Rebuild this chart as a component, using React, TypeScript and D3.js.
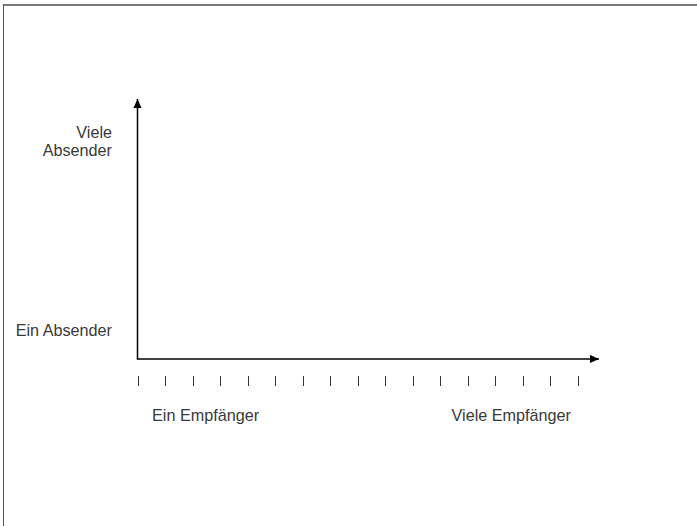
import React, { useEffect, useRef } from 'react';
import * as d3 from 'd3';

// tick slots along the receiver axis
const xTicks = d3.range(17);
const xLabels = ['Ein Empfänger', 'Viele Empfänger'];
const yLabels = [['Ein Absender'], ['Viele', 'Absender']];

export default function App() {
  const ref = useRef<SVGSVGElement | null>(null);

  useEffect(() => {
    if (!ref.current) return;
    const svg = d3.select(ref.current);
    svg.selectAll('*').remove();

    const width = 697;
    const height = 526;
    const origin = { x: 137.5, y: 359 };

    const x = d3.scaleLinear().domain([0, 16]).range([137.5, 577.5]);
    const xEnd = 599;
    const yTop = 99;
    const y = d3.scalePoint().domain(['low', 'high']).range([331, 142]);

    const font = "'Liberation Sans', Arial, Helvetica, sans-serif";
    const fs = 16.2;

    // frame
    svg.append('line')
      .attr('x1', 3).attr('x2', width)
      .attr('y1', 5).attr('y2', 5)
      .attr('stroke', '#7a7a7a').attr('stroke-width', 2);
    svg.append('line')
      .attr('x1', 3.5).attr('x2', 3.5)
      .attr('y1', 4).attr('y2', height)
      .attr('stroke', '#555').attr('stroke-width', 1);

    const defs = svg.append('defs');
    defs.append('marker')
      .attr('id', 'arrow')
      .attr('viewBox', '0 0 10 10')
      .attr('refX', 10).attr('refY', 5)
      .attr('markerUnits', 'userSpaceOnUse')
      .attr('markerWidth', 9).attr('markerHeight', 9)
      .attr('orient', 'auto')
      .append('path')
      .attr('d', 'M0,0.5 L10,5 L0,9.5 Z')
      .attr('fill', '#000');

    // axes
    svg.append('path')
      .attr('d', `M${origin.x},${origin.y} L${origin.x},${yTop}`)
      .attr('stroke', '#000').attr('stroke-width', 1.5).attr('fill', 'none')
      .attr('marker-end', 'url(#arrow)');
    svg.append('path')
      .attr('d', `M${origin.x - 0.75},${origin.y} L${xEnd},${origin.y}`)
      .attr('stroke', '#000').attr('stroke-width', 1.5).attr('fill', 'none')
      .attr('marker-end', 'url(#arrow)');

    // tick marks under the x axis
    svg.append('g')
      .selectAll('line')
      .data(xTicks)
      .join('line')
      .attr('x1', d => Math.round(x(d)) + 0.5)
      .attr('x2', d => Math.round(x(d)) + 0.5)
      .attr('y1', 376).attr('y2', 386)
      .attr('stroke', '#333').attr('stroke-width', 1);

    // x labels
    svg.append('text')
      .attr('x', 152).attr('y', 421)
      .attr('font-family', font).attr('font-size', fs)
      .attr('fill', '#3a3a3a')
      .text(xLabels[0]);
    svg.append('text')
      .attr('x', 571).attr('y', 421)
      .attr('text-anchor', 'end')
      .attr('font-family', font).attr('font-size', fs)
      .attr('fill', '#3a3a3a')
      .text(xLabels[1]);

    // y labels
    const keys = ['low', 'high'];
    yLabels.forEach((lines, i) => {
      const cy = y(keys[i])!;
      const t = svg.append('text')
        .attr('text-anchor', 'end')
        .attr('font-family', font).attr('font-size', fs)
        .attr('fill', '#3a3a3a');
      lines.forEach((ln, j) => {
        t.append('tspan')
          .attr('x', 112)
          .attr('y', cy + 5 + (j - (lines.length - 1) / 2) * 18.5)
          .text(ln);
      });
    });
  }, []);

  return (
    <svg
      ref={ref}
      width={697}
      height={526}
      style={{ position: 'absolute', left: 0, top: 0, background: '#fff' }}
    />
  );
}
